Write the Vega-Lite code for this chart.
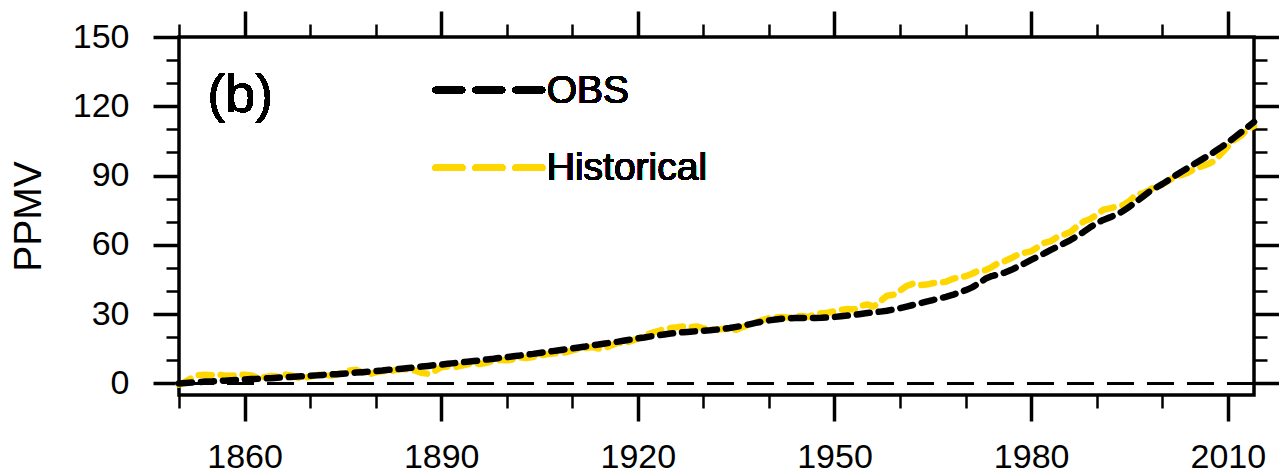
{
  "$schema": "https://vega.github.io/schema/vega-lite/v6.json",
  "autosize": {"type": "none"},
  "padding": {"left": 179, "top": 37, "right": 25, "bottom": 78},
  "width": 1075,
  "height": 358,
  "background": "white",
  "config": {
    "font": "Liberation Sans",
    "view": {"stroke": "black", "strokeWidth": 3.5},
    "axis": {
      "domain": false,
      "grid": false,
      "labelFont": "Liberation Sans",
      "labelFontSize": 34,
      "labelColor": "black",
      "tickColor": "black",
      "titleFont": "Liberation Sans",
      "titleFontSize": 39,
      "titleFontWeight": "normal",
      "titleColor": "black"
    }
  },
  "data": {
    "values": [
      {"year": 1850, "obs": 0.0, "hist": -0.5}, {"year": 1851, "obs": 0.2, "hist": 0.8}, {"year": 1852, "obs": 0.4, "hist": 2.5},
      {"year": 1853, "obs": 0.6, "hist": 3.6}, {"year": 1854, "obs": 0.8, "hist": 3.8}, {"year": 1855, "obs": 0.9, "hist": 3.6},
      {"year": 1856, "obs": 1.1, "hist": 3.9}, {"year": 1857, "obs": 1.2, "hist": 3.4}, {"year": 1858, "obs": 1.4, "hist": 3.3},
      {"year": 1859, "obs": 1.5, "hist": 3.6}, {"year": 1860, "obs": 1.7, "hist": 3.8}, {"year": 1861, "obs": 1.9, "hist": 3.5},
      {"year": 1862, "obs": 2.0, "hist": 2.5}, {"year": 1863, "obs": 2.2, "hist": 2.7}, {"year": 1864, "obs": 2.3, "hist": 3.2},
      {"year": 1865, "obs": 2.5, "hist": 3.0}, {"year": 1866, "obs": 2.7, "hist": 3.9}, {"year": 1867, "obs": 2.8, "hist": 3.6},
      {"year": 1868, "obs": 3.0, "hist": 2.6}, {"year": 1869, "obs": 3.1, "hist": 2.3}, {"year": 1870, "obs": 3.3, "hist": 3.0},
      {"year": 1871, "obs": 3.5, "hist": 3.6}, {"year": 1872, "obs": 3.7, "hist": 3.9}, {"year": 1873, "obs": 3.9, "hist": 3.4},
      {"year": 1874, "obs": 4.0, "hist": 3.8}, {"year": 1875, "obs": 4.2, "hist": 4.6}, {"year": 1876, "obs": 4.4, "hist": 5.6},
      {"year": 1877, "obs": 4.7, "hist": 5.9}, {"year": 1878, "obs": 4.9, "hist": 4.8}, {"year": 1879, "obs": 5.1, "hist": 4.0},
      {"year": 1880, "obs": 5.4, "hist": 4.8}, {"year": 1881, "obs": 5.6, "hist": 5.3}, {"year": 1882, "obs": 5.9, "hist": 5.1},
      {"year": 1883, "obs": 6.1, "hist": 5.8}, {"year": 1884, "obs": 6.4, "hist": 6.3}, {"year": 1885, "obs": 6.7, "hist": 6.0},
      {"year": 1886, "obs": 7.0, "hist": 5.6}, {"year": 1887, "obs": 7.3, "hist": 4.6}, {"year": 1888, "obs": 7.6, "hist": 4.2},
      {"year": 1889, "obs": 7.9, "hist": 5.4}, {"year": 1890, "obs": 8.2, "hist": 7.0}, {"year": 1891, "obs": 8.5, "hist": 7.4},
      {"year": 1892, "obs": 8.8, "hist": 7.0}, {"year": 1893, "obs": 9.1, "hist": 7.6}, {"year": 1894, "obs": 9.4, "hist": 8.3},
      {"year": 1895, "obs": 9.7, "hist": 8.8}, {"year": 1896, "obs": 10.0, "hist": 8.4}, {"year": 1897, "obs": 10.4, "hist": 9.0},
      {"year": 1898, "obs": 10.7, "hist": 9.8}, {"year": 1899, "obs": 11.1, "hist": 10.2}, {"year": 1900, "obs": 11.4, "hist": 10.0},
      {"year": 1901, "obs": 11.8, "hist": 10.4}, {"year": 1902, "obs": 12.1, "hist": 11.3}, {"year": 1903, "obs": 12.5, "hist": 11.0},
      {"year": 1904, "obs": 12.8, "hist": 11.4}, {"year": 1905, "obs": 13.2, "hist": 12.0}, {"year": 1906, "obs": 13.6, "hist": 12.6},
      {"year": 1907, "obs": 14.0, "hist": 13.0}, {"year": 1908, "obs": 14.4, "hist": 13.2}, {"year": 1909, "obs": 14.8, "hist": 13.5},
      {"year": 1910, "obs": 15.2, "hist": 14.3}, {"year": 1911, "obs": 15.6, "hist": 15.0}, {"year": 1912, "obs": 16.0, "hist": 15.3},
      {"year": 1913, "obs": 16.5, "hist": 15.8}, {"year": 1914, "obs": 16.9, "hist": 15.1}, {"year": 1915, "obs": 17.3, "hist": 15.3},
      {"year": 1916, "obs": 17.7, "hist": 16.5}, {"year": 1917, "obs": 18.1, "hist": 17.6}, {"year": 1918, "obs": 18.6, "hist": 17.4},
      {"year": 1919, "obs": 19.0, "hist": 18.4}, {"year": 1920, "obs": 19.5, "hist": 19.4}, {"year": 1921, "obs": 19.9, "hist": 20.8},
      {"year": 1922, "obs": 20.4, "hist": 21.8}, {"year": 1923, "obs": 20.8, "hist": 22.6}, {"year": 1924, "obs": 21.2, "hist": 23.5},
      {"year": 1925, "obs": 21.6, "hist": 24.0}, {"year": 1926, "obs": 21.9, "hist": 24.3}, {"year": 1927, "obs": 22.2, "hist": 24.7},
      {"year": 1928, "obs": 22.4, "hist": 24.4}, {"year": 1929, "obs": 22.6, "hist": 24.7}, {"year": 1930, "obs": 22.8, "hist": 23.8},
      {"year": 1931, "obs": 23.0, "hist": 23.5}, {"year": 1932, "obs": 23.3, "hist": 23.2}, {"year": 1933, "obs": 23.6, "hist": 23.7},
      {"year": 1934, "obs": 24.0, "hist": 23.4}, {"year": 1935, "obs": 24.5, "hist": 23.2}, {"year": 1936, "obs": 25.0, "hist": 24.4},
      {"year": 1937, "obs": 25.6, "hist": 25.5}, {"year": 1938, "obs": 26.2, "hist": 26.5}, {"year": 1939, "obs": 26.8, "hist": 27.4},
      {"year": 1940, "obs": 27.3, "hist": 28.3}, {"year": 1941, "obs": 27.7, "hist": 28.6}, {"year": 1942, "obs": 28.0, "hist": 28.8},
      {"year": 1943, "obs": 28.2, "hist": 28.5}, {"year": 1944, "obs": 28.3, "hist": 28.9}, {"year": 1945, "obs": 28.3, "hist": 29.2},
      {"year": 1946, "obs": 28.3, "hist": 28.8}, {"year": 1947, "obs": 28.3, "hist": 30.0}, {"year": 1948, "obs": 28.4, "hist": 30.4},
      {"year": 1949, "obs": 28.6, "hist": 30.6}, {"year": 1950, "obs": 28.8, "hist": 31.3}, {"year": 1951, "obs": 29.1, "hist": 31.9},
      {"year": 1952, "obs": 29.4, "hist": 32.2}, {"year": 1953, "obs": 29.7, "hist": 32.0}, {"year": 1954, "obs": 30.1, "hist": 33.6},
      {"year": 1955, "obs": 30.5, "hist": 34.2}, {"year": 1956, "obs": 30.8, "hist": 33.3}, {"year": 1957, "obs": 31.1, "hist": 35.6},
      {"year": 1958, "obs": 31.5, "hist": 38.0}, {"year": 1959, "obs": 32.0, "hist": 38.4}, {"year": 1960, "obs": 32.6, "hist": 40.2},
      {"year": 1961, "obs": 33.3, "hist": 42.2}, {"year": 1962, "obs": 34.0, "hist": 43.2}, {"year": 1963, "obs": 34.7, "hist": 42.6},
      {"year": 1964, "obs": 35.4, "hist": 42.8}, {"year": 1965, "obs": 36.1, "hist": 43.4}, {"year": 1966, "obs": 36.8, "hist": 43.7},
      {"year": 1967, "obs": 37.5, "hist": 44.0}, {"year": 1968, "obs": 38.3, "hist": 45.2}, {"year": 1969, "obs": 39.3, "hist": 46.0},
      {"year": 1970, "obs": 40.4, "hist": 46.4}, {"year": 1971, "obs": 41.6, "hist": 47.5}, {"year": 1972, "obs": 43.3, "hist": 48.9},
      {"year": 1973, "obs": 45.3, "hist": 49.0}, {"year": 1974, "obs": 46.5, "hist": 50.4}, {"year": 1975, "obs": 47.2, "hist": 52.2},
      {"year": 1976, "obs": 48.0, "hist": 53.0}, {"year": 1977, "obs": 49.2, "hist": 54.3}, {"year": 1978, "obs": 50.6, "hist": 55.8},
      {"year": 1979, "obs": 52.0, "hist": 56.6}, {"year": 1980, "obs": 53.5, "hist": 57.2}, {"year": 1981, "obs": 54.9, "hist": 59.0},
      {"year": 1982, "obs": 56.3, "hist": 60.8}, {"year": 1983, "obs": 57.8, "hist": 61.6}, {"year": 1984, "obs": 59.2, "hist": 63.4},
      {"year": 1985, "obs": 60.6, "hist": 64.4}, {"year": 1986, "obs": 62.1, "hist": 65.6}, {"year": 1987, "obs": 63.8, "hist": 68.0},
      {"year": 1988, "obs": 65.6, "hist": 70.1}, {"year": 1989, "obs": 67.6, "hist": 71.2}, {"year": 1990, "obs": 69.4, "hist": 73.0},
      {"year": 1991, "obs": 70.8, "hist": 75.2}, {"year": 1992, "obs": 71.9, "hist": 75.8}, {"year": 1993, "obs": 73.1, "hist": 76.6},
      {"year": 1994, "obs": 74.6, "hist": 77.2}, {"year": 1995, "obs": 76.5, "hist": 79.0}, {"year": 1996, "obs": 78.6, "hist": 81.7},
      {"year": 1997, "obs": 80.8, "hist": 82.3}, {"year": 1998, "obs": 83.0, "hist": 83.6}, {"year": 1999, "obs": 84.7, "hist": 85.4},
      {"year": 2000, "obs": 86.3, "hist": 86.2}, {"year": 2001, "obs": 88.1, "hist": 87.9}, {"year": 2002, "obs": 90.0, "hist": 89.6},
      {"year": 2003, "obs": 91.8, "hist": 90.3}, {"year": 2004, "obs": 93.5, "hist": 91.4}, {"year": 2005, "obs": 95.2, "hist": 93.0},
      {"year": 2006, "obs": 96.9, "hist": 94.0}, {"year": 2007, "obs": 98.6, "hist": 95.0}, {"year": 2008, "obs": 100.4, "hist": 96.5},
      {"year": 2009, "obs": 102.3, "hist": 99.5}, {"year": 2010, "obs": 104.3, "hist": 102.6}, {"year": 2011, "obs": 106.5, "hist": 105.4},
      {"year": 2012, "obs": 108.7, "hist": 107.2}, {"year": 2013, "obs": 110.9, "hist": 110.0}, {"year": 2014, "obs": 113.2, "hist": 111.5}
    ]
  },
  "resolve": {"axis": {"x": "independent", "y": "independent"}},
  "layer": [
    {
      "mark": {"type": "line", "color": "#FFD700", "strokeWidth": 6.5, "strokeCap": "round", "strokeJoin": "round", "strokeDash": [13, 9]},
      "encoding": {
        "x": {
          "field": "year", "type": "quantitative",
          "scale": {"domain": [1850, 2014], "nice": false, "zero": false},
          "axis": {
            "orient": "bottom", "title": null, "format": "d",
            "values": [1850, 1860, 1870, 1880, 1890, 1900, 1910, 1920, 1930, 1940, 1950, 1960, 1970, 1980, 1990, 2000, 2010],
            "labelExpr": "datum.value % 30 === 0 ? datum.label : ''",
            "tickSize": {"condition": {"test": "datum.value % 30 === 0", "value": 26}, "value": 13},
            "tickWidth": {"condition": {"test": "datum.value % 30 === 0", "value": 3.5}, "value": 2.5},
            "labelPadding": 19, "labelFlush": false, "labelOverlap": false
          }
        },
        "y": {
          "field": "hist", "type": "quantitative",
          "scale": {"domain": [-5, 150], "nice": false, "zero": false},
          "axis": {
            "orient": "left", "title": "PPMV", "titlePadding": 24,
            "values": [0, 10, 20, 30, 40, 50, 60, 70, 80, 90, 100, 110, 120, 130, 140, 150],
            "labelExpr": "datum.value % 30 === 0 ? datum.label : ''",
            "tickSize": {"condition": {"test": "datum.value % 30 === 0", "value": 26}, "value": 13},
            "tickWidth": {"condition": {"test": "datum.value % 30 === 0", "value": 3.5}, "value": 2.5},
            "labelPadding": 24, "labelOverlap": false, "labelFlush": false
          }
        }
      }
    },
    {
      "mark": {"type": "line", "color": "black", "strokeWidth": 6.5, "strokeCap": "round", "strokeJoin": "round", "strokeDash": [13, 9]},
      "encoding": {
        "x": {
          "field": "year", "type": "quantitative",
          "axis": {
            "orient": "top", "title": null, "labels": false,
            "values": [1850, 1860, 1870, 1880, 1890, 1900, 1910, 1920, 1930, 1940, 1950, 1960, 1970, 1980, 1990, 2000, 2010],
            "tickSize": {"condition": {"test": "datum.value % 30 === 0", "value": 26}, "value": 13},
            "tickWidth": {"condition": {"test": "datum.value % 30 === 0", "value": 3.5}, "value": 2.5}
          }
        },
        "y": {
          "field": "obs", "type": "quantitative",
          "axis": {
            "orient": "right", "title": null, "labels": false,
            "values": [0, 10, 20, 30, 40, 50, 60, 70, 80, 90, 100, 110, 120, 130, 140, 150],
            "tickSize": {"condition": {"test": "datum.value % 30 === 0", "value": 26}, "value": 13},
            "tickWidth": {"condition": {"test": "datum.value % 30 === 0", "value": 3.5}, "value": 2.5}
          }
        }
      }
    },
    {
      "mark": {"type": "rule", "color": "black", "strokeWidth": 2.2, "strokeDash": [27, 13]},
      "encoding": {"y": {"datum": 0, "type": "quantitative", "axis": null}}
    },
    {
      "mark": {"type": "rule", "color": "black", "strokeWidth": 6.5, "strokeCap": "round", "strokeDash": [26, 14]},
      "encoding": {
        "x": {"datum": 1889.2, "type": "quantitative", "axis": null},
        "x2": {"datum": 1906.1},
        "y": {"datum": 127.1, "type": "quantitative", "axis": null}
      }
    },
    {
      "mark": {"type": "rule", "color": "#FFD700", "strokeWidth": 6.5, "strokeCap": "round", "strokeDash": [26, 14]},
      "encoding": {
        "x": {"datum": 1889.2, "type": "quantitative", "axis": null},
        "x2": {"datum": 1906.1},
        "y": {"datum": 93.4, "type": "quantitative", "axis": null}
      }
    },
    {
      "mark": {"type": "text", "text": "OBS", "align": "left", "baseline": "middle", "fontSize": 39, "font": "Liberation Sans", "color": "black"},
      "encoding": {
        "x": {"datum": 1906.1, "type": "quantitative", "axis": null},
        "y": {"datum": 126.7, "type": "quantitative", "axis": null}
      }
    },
    {
      "mark": {"type": "text", "text": "Historical", "align": "left", "baseline": "middle", "fontSize": 39, "font": "Liberation Sans", "color": "black"},
      "encoding": {
        "x": {"datum": 1906.1, "type": "quantitative", "axis": null},
        "y": {"datum": 93.4, "type": "quantitative", "axis": null}
      }
    },
    {
      "mark": {"type": "text", "text": "(b)", "align": "left", "baseline": "middle", "fontSize": 54, "font": "Liberation Sans", "color": "black"},
      "encoding": {
        "x": {"datum": 1854.3, "type": "quantitative", "axis": null},
        "y": {"datum": 124.5, "type": "quantitative", "axis": null}
      }
    }
  ]
}
